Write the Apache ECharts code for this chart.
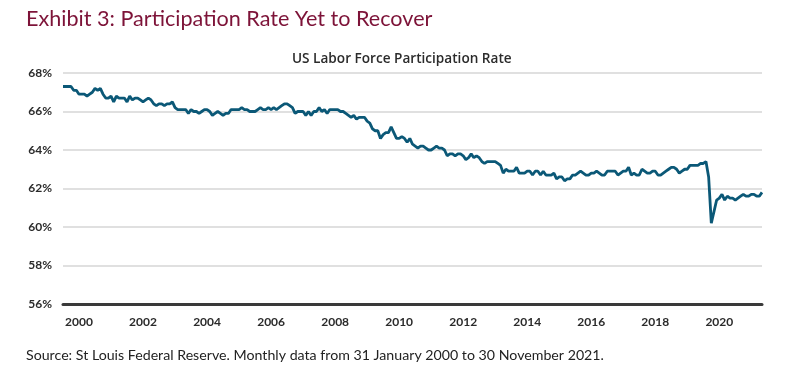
<!DOCTYPE html>
<html>
<head>
<meta charset="utf-8">
<script src="https://cdn.jsdelivr.net/npm/echarts@6/dist/echarts.min.js"></script>
<style>
html,body{margin:0;padding:0;background:#fff;}
#chart{width:800px;height:366px;}
</style>
</head>
<body>
<div id="chart"></div>
<script>
// Monthly US labor force participation rate (%), Jan 2000 - Nov 2021
const startYear = 2000;
const rate = [
  67.3, 67.3, 67.3, 67.3, 67.1, 67.1, 66.9, 66.9, 66.9, 66.8, 66.9, 67.0,
  67.2, 67.1, 67.2, 66.9, 66.7, 66.7, 66.8, 66.5, 66.8, 66.7, 66.7, 66.7,
  66.5, 66.8, 66.6, 66.7, 66.7, 66.6, 66.5, 66.6, 66.7, 66.6, 66.4, 66.3,
  66.4, 66.4, 66.3, 66.4, 66.4, 66.5, 66.2, 66.1, 66.1, 66.1, 66.1, 65.9,
  66.1, 66.0, 66.0, 65.9, 66.0, 66.1, 66.1, 66.0, 65.8, 65.9, 66.0, 65.9,
  65.8, 65.9, 65.9, 66.1, 66.1, 66.1, 66.1, 66.2, 66.1, 66.1, 66.0, 66.0,
  66.0, 66.1, 66.2, 66.1, 66.1, 66.2, 66.1, 66.2, 66.1, 66.2, 66.3, 66.4,
  66.4, 66.3, 66.2, 65.9, 66.0, 66.0, 66.0, 65.8, 66.0, 65.8, 66.0, 66.0,
  66.2, 66.0, 66.1, 65.9, 66.1, 66.1, 66.1, 66.1, 66.0, 66.0, 65.9, 65.8,
  65.7, 65.8, 65.6, 65.7, 65.7, 65.7, 65.5, 65.4, 65.1, 65.0, 65.0, 64.6,
  64.8, 64.9, 64.9, 65.2, 64.9, 64.6, 64.6, 64.7, 64.6, 64.4, 64.6, 64.3,
  64.2, 64.1, 64.2, 64.2, 64.1, 64.0, 64.0, 64.1, 64.2, 64.1, 64.1, 64.0,
  63.7, 63.8, 63.8, 63.7, 63.8, 63.8, 63.7, 63.5, 63.6, 63.8, 63.6, 63.7,
  63.6, 63.4, 63.3, 63.4, 63.4, 63.4, 63.4, 63.3, 63.2, 62.8, 63.0, 62.9,
  62.9, 62.9, 63.1, 62.8, 62.8, 62.8, 62.9, 62.9, 62.7, 62.9, 62.9, 62.7,
  62.9, 62.7, 62.7, 62.7, 62.8, 62.5, 62.6, 62.6, 62.4, 62.5, 62.5, 62.7,
  62.7, 62.8, 62.9, 62.8, 62.7, 62.7, 62.8, 62.8, 62.9, 62.8, 62.7, 62.7,
  62.9, 62.9, 62.9, 62.9, 62.7, 62.8, 62.9, 62.9, 63.1, 62.7, 62.8, 62.7,
  62.7, 63.0, 62.9, 62.8, 62.8, 62.9, 62.9, 62.7, 62.7, 62.8, 62.9, 63.0,
  63.1, 63.1, 63.0, 62.8, 62.9, 63.0, 63.0, 63.2, 63.2, 63.2, 63.2, 63.3,
  63.3, 63.4, 62.6, 60.2, 60.8, 61.4, 61.5, 61.7, 61.4, 61.6, 61.5, 61.5,
  61.4, 61.5, 61.6, 61.7, 61.6, 61.6, 61.7, 61.7, 61.6, 61.6, 61.8
];
const yTicks = [56, 58, 60, 62, 64, 66, 68];
const titleText = 'Exhibit 3: Participation Rate Yet to Recover';
const subtitleText = 'US Labor Force Participation Rate';
const sourceText = 'Source: St Louis Federal Reserve. Monthly data from 31 January 2000 to 30 November 2021.';

const months = rate.map((v, i) => {
  const y = startYear + Math.floor(i / 12);
  const m = (i % 12) + 1;
  return y + '-' + (m < 10 ? '0' + m : m);
});

const chart = echarts.init(document.getElementById('chart'), null, {renderer: 'canvas'});
const fontFam = 'Lato, "Noto Sans", sans-serif';
chart.setOption({
  animation: false,
  backgroundColor: '#fff',
  title: [
    {text: titleText, left: 21, top: 3,
     textStyle: {color: '#7d1338', fontSize: 21.6, fontWeight: 'normal', fontFamily: fontFam}},
    {text: subtitleText, left: 287, top: 47,
     textStyle: {color: '#2b2b2b', fontSize: 13.6, fontWeight: 600, fontFamily: '"Open Sans", sans-serif'}},
    {text: sourceText, left: 21, top: 343,
     textStyle: {color: '#222', fontSize: 14.2, fontWeight: 'normal', fontFamily: fontFam}}
  ],
  grid: {left: 63, right: 38, top: 73, bottom: 62, containLabel: false},
  xAxis: {
    type: 'category',
    data: months,
    boundaryGap: false,
    axisLine: {show: true, lineStyle: {color: '#3a3a3a', width: 3}},
    axisTick: {show: false},
    splitLine: {show: false},
    axisLabel: {
      interval: (idx, val) => val.slice(5) === '07' && (parseInt(val.slice(0, 4)) % 2 === 0),
      formatter: (val) => val.slice(0, 4),
      color: '#2b2b2b', fontSize: 12, fontWeight: 'bold', fontFamily: fontFam, margin: 12
    }
  },
  yAxis: {
    type: 'value',
    min: yTicks[0], max: yTicks[yTicks.length - 1], interval: 2,
    axisLine: {show: false},
    axisTick: {show: false},
    splitLine: {show: true, lineStyle: {color: '#d6d6d6', width: 1.5}},
    axisLabel: {formatter: '{value}%', color: '#2b2b2b', fontSize: 12, fontWeight: 'bold',
                fontFamily: fontFam, margin: 11}
  },
  series: [{
    type: 'line',
    data: rate,
    showSymbol: false,
    lineStyle: {color: '#0b5877', width: 2.8},
    itemStyle: {color: '#0b5877'}
  }]
});
</script>
</body>
</html>
